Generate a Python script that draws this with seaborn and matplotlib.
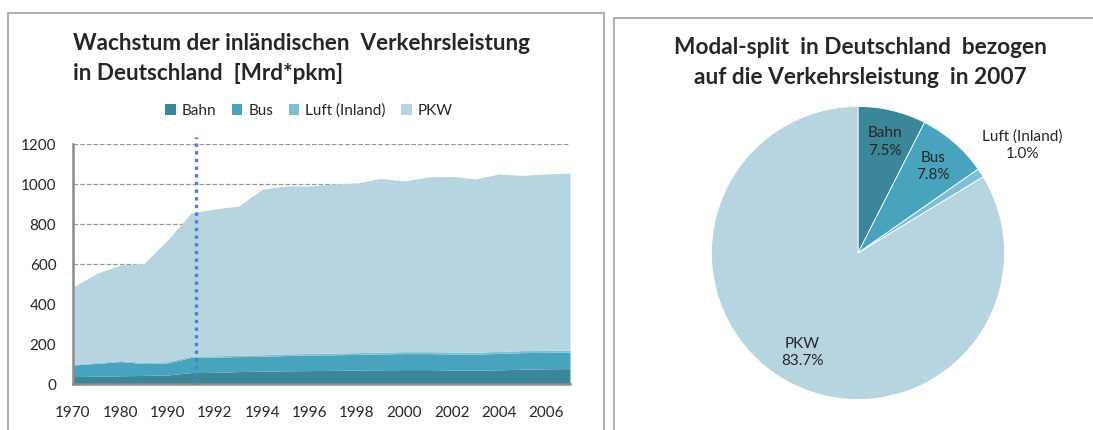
import matplotlib
matplotlib.use("Agg")
import matplotlib.pyplot as plt
import seaborn as sns
from matplotlib.patches import Rectangle, Patch

# Data (Mrd pkm)
years = [1970, 1975, 1980, 1985, 1990, 1991, 1992, 1993, 1994, 1995, 1996,
         1997, 1998, 1999, 2000, 2001, 2002, 2003, 2004, 2005, 2006, 2007]
bahn = [37, 39, 41, 43, 45, 57, 58, 62, 64, 66, 67,
        68, 70, 71, 72, 72, 70, 69, 71, 74, 76, 77]
bus = [58, 64, 71, 59, 60, 76, 76, 75, 74, 76, 78,
       78, 78, 79, 80, 80, 80, 80, 82, 83, 82, 83]
luft = [3, 4, 5, 6, 7, 7, 7, 7, 8, 8, 8,
        8, 9, 9, 10, 10, 10, 10, 10, 10, 10, 10]
pkw = [387, 446, 478, 495, 608, 716, 734, 746, 829, 840, 837,
       846, 848, 869, 853, 873, 878, 866, 887, 876, 882, 885]

modes = ["Bahn", "Bus", "Luft (Inland)", "PKW"]
share_2007 = [7.5, 7.8, 1.0, 83.7]
colors = ["#3b8699", "#48a3bc", "#80bfd3", "#b7d5e0"]

sns.set_theme(style="white")
plt.rcParams["font.family"] = ["Lato", "DejaVu Sans"]

fig = plt.figure(figsize=(10.93, 4.30), dpi=100)

# panel frames
fig.patches.append(Rectangle((8 / 1093, -0.1), 596 / 1093, 1.1 - 13 / 430,
                             transform=fig.transFigure, fill=False,
                             edgecolor="#a0a0a0", lw=1.2))
fig.patches.append(Rectangle((614 / 1093, -0.1), 0.5, 1.1 - 18 / 430,
                             transform=fig.transFigure, fill=False,
                             edgecolor="#a0a0a0", lw=1.2))

# --- left: stacked area ---
ax = fig.add_axes([73 / 1093, 46 / 430, 497 / 1093, 240 / 430])
x = list(range(len(years)))
ax.stackplot(x, bahn, bus, luft, pkw, colors=colors, linewidth=0)
ax.set_xlim(0, len(years) - 1)
ax.set_ylim(0, 1200)
ax.set_yticks(range(0, 1201, 200))
ax.set_yticklabels([str(v) for v in range(0, 1201, 200)], fontsize=11)
ax.set_xticks(x[::2])
ax.set_xticklabels([str(y) for y in years[::2]], fontsize=11)
ax.tick_params(axis="x", length=0, pad=16)
ax.tick_params(axis="y", length=0, pad=12)
ax.grid(axis="y", linestyle="--", color="#999999", lw=0.9)
ax.set_axisbelow(True)
for s in ["top", "right"]:
    ax.spines[s].set_visible(False)
for s in ["left", "bottom"]:
    ax.spines[s].set_color("#8c8c8c")
    ax.spines[s].set_linewidth(1.8)

# reunification marker (drawn by hand in the original, just right of 1991)
ax.axvline(5.2, ymin=0, ymax=1.03, color="#4a7fd4", ls=(0, (1, 1.3)),
           lw=2.4, clip_on=False, zorder=5)

fig.text(73 / 1093, 1 - 43 / 430, "Wachstum der inländischen  Verkehrsleistung",
         ha="left", va="center", fontsize=16.2, fontweight="bold")
fig.text(73 / 1093, 1 - 73 / 430, "in Deutschland  [Mrd*pkm]",
         ha="left", va="center", fontsize=16.2, fontweight="bold")

handles = [Patch(facecolor=c, edgecolor="none") for c in colors]
fig.legend(handles, modes, loc="center", bbox_to_anchor=(309 / 1093, 1 - 111 / 430),
           ncol=4, frameon=False, fontsize=11, handlelength=0.7, handleheight=0.7,
           handletextpad=0.4, columnspacing=1.0)

# --- right: pie ---
pax = fig.add_axes([710 / 1093, 29 / 430, 296 / 1093, 296 / 430])
labels = [f"{m}\n{p:.1f}%" for m, p in zip(modes, share_2007)]
wedges, texts = pax.pie(share_2007, labels=labels, colors=colors, startangle=90,
                        counterclock=False, labeldistance=0.78,
                        wedgeprops=dict(edgecolor="white", linewidth=0.6))
for t in texts:
    t.set_ha("center")
    t.set_va("center")
    t.set_fontsize(11)
    t.set_linespacing(1.3)
# small slice label sits outside the pie
xt, yt = texts[2].get_position()
texts[2].set_position((xt * 1.72, yt * 1.72))
pax.set_xlim(-1.01, 1.01)
pax.set_ylim(-1.01, 1.01)
pax.set_aspect("equal")
pax.axis("off")

fig.text(860 / 1093, 1 - 47 / 430, "Modal-split  in Deutschland  bezogen",
         ha="center", va="center", fontsize=16.3, fontweight="bold")
fig.text(860 / 1093, 1 - 78 / 430, "auf die Verkehrsleistung  in 2007",
         ha="center", va="center", fontsize=16.3, fontweight="bold")

fig.savefig("out.png", dpi=100)
